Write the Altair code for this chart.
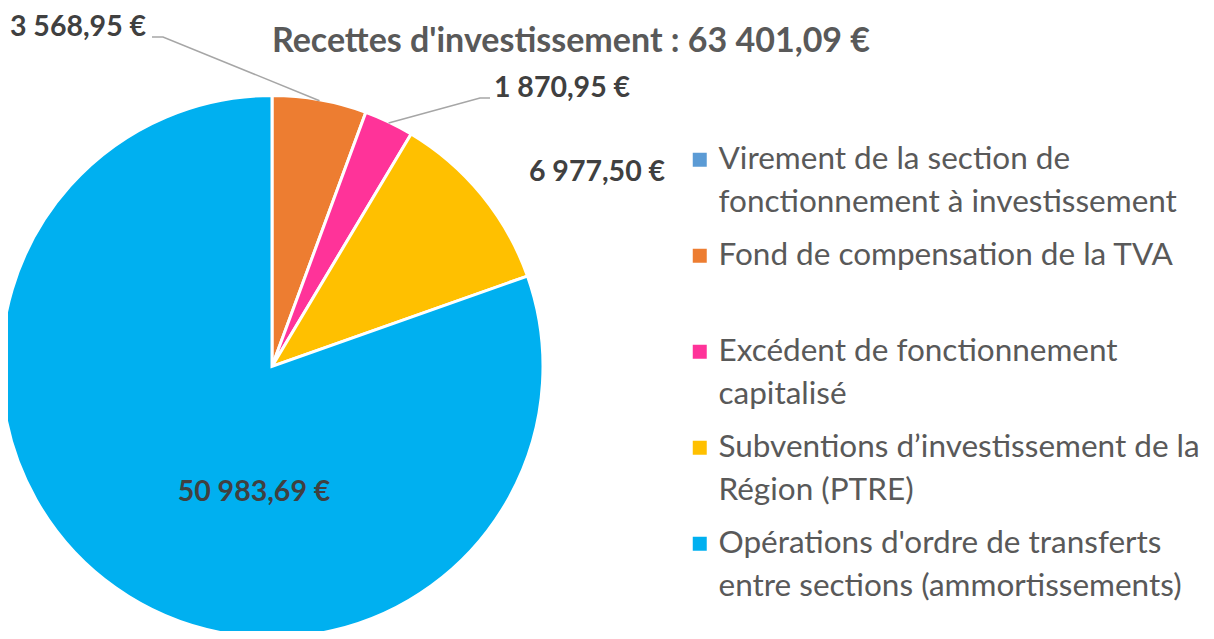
import math
import altair as alt
import pandas as pd

# ---------------- data ----------------
categories = [
    "Virement de la section de fonctionnement à investissement",
    "Fond de compensation de la TVA",
    "Excédent de fonctionnement capitalisé",
    "Subventions d’investissement de la Région (PTRE)",
    "Opérations d'ordre de transferts entre sections (ammortissements)",
]
values = [0.0, 3568.95, 1870.95, 6977.50, 50983.69]
legend_lines = [
    ["Virement de la section de", "fonctionnement à investissement"],
    ["Fond de compensation de la TVA", ""],
    ["Excédent de fonctionnement", "capitalisé"],
    ["Subventions d’investissement de la", "Région (PTRE)"],
    ["Opérations d'ordre de transferts", "entre sections (ammortissements)"],
]
title_text = "Recettes d'investissement"

# ---------------- styles / layout ----------------
colors = ["#5B9BD5", "#ED7D31", "#FF3399", "#FFC000", "#00B0F0"]
W, H = 1198, 623
CX, CY, R = 264, 358.5, 271
FONT = "Lato"
# label centres (chart px) for the non-zero slices, by category index
label_pos = {1: (70, 19), 2: (554, 80), 3: (589, 164), 4: (246, 484)}
# leader lines: label-side points (chart px) by category index
leader_pts = {1: [(144, 29), (155, 29)], 2: [(482, 90), (472, 90)]}


def fr(v):
    return f"{v:,.2f}".replace(",", " ").replace(".", ",") + " €"


total = sum(values)
df = pd.DataFrame({"cat": categories, "value": values, "idx": range(len(values))})

# labels
lab_rows = []
for i, (x, y) in label_pos.items():
    lab_rows.append({"lx": x, "ly": y, "txt": fr(values[i])})
df_lab = pd.DataFrame(lab_rows)

# leader lines: anchor at slice mid-angle on the rim
line_rows = []
cum = 0.0
mids = []
for v in values:
    mids.append((cum + v / 2) / total * 2 * math.pi)
    cum += v
for i, pts in leader_pts.items():
    ax = CX + (R - 1) * math.sin(mids[i])
    ay = CY - (R - 1) * math.cos(mids[i])
    seq = pts + [(ax, ay)]
    for k, (x, y) in enumerate(seq):
        line_rows.append({"g": i, "k": k, "px": x, "py": y})
df_line = pd.DataFrame(line_rows)

# legend label expression
expr = ""
for c, ln in zip(categories, legend_lines):
    c_esc = c.replace("'", "\\'")
    parts = ", ".join("'" + s.replace("'", "\\'") + "'" for s in ln)
    expr += f"datum.label == '{c_esc}' ? [{parts}] : "
expr += "datum.label"

pie = alt.Chart(df).mark_arc(stroke="white", strokeWidth=3).encode(
    theta=alt.Theta("value:Q", stack=True),
    order=alt.Order("idx:Q"),
    color=alt.Color(
        "cat:N",
        scale=alt.Scale(domain=categories, range=colors),
        sort=categories,
        legend=alt.Legend(
            title=None,
            orient="none",
            legendX=676,
            legendY=136,
            symbolType="square",
            symbolSize=196,
            symbolStrokeWidth=0,
            labelExpr=expr,
            labelFont=FONT,
            labelFontSize=31.5,
            labelColor="#595959",
            labelLimit=700,
            labelOffset=3,
            rowPadding=20,
            padding=0,
            labelBaseline="middle",
        ),
    ),
    x=alt.value(CX),
    y=alt.value(CY),
    radius=alt.value(R),
)

lines = alt.Chart(df_line).mark_line(color="#A6A6A6", strokeWidth=1.5).encode(
    x=alt.X("px:Q", scale=None),
    y=alt.Y("py:Q", scale=None),
    detail="g:N",
    order="k:Q",
)

labels = alt.Chart(df_lab).mark_text(
    font=FONT, fontSize=28.5, fontWeight="bold", color="#404040",
    align="center", baseline="middle",
).encode(
    x=alt.X("lx:Q", scale=None),
    y=alt.Y("ly:Q", scale=None),
    text="txt:N",
)

title = alt.Chart(pd.DataFrame({"t": [f"{title_text} : {fr(total)}"]})).mark_text(
    font=FONT, fontSize=34, fontWeight="bold", color="#595959",
    align="center", baseline="middle",
).encode(
    x=alt.value(563), y=alt.value(34), text="t:N",
)

chart = alt.layer(pie, lines, labels, title).properties(
    width=W, height=H,
    autosize=alt.AutoSizeParams(type="none"),
    padding=0,
    background="white",
).configure(
    view=alt.ViewConfig(stroke=None),
    style={"guide-label": {"lineHeight": 43}},
)

chart.save("out.html", embed_options={"renderer": "svg", "actions": False})
